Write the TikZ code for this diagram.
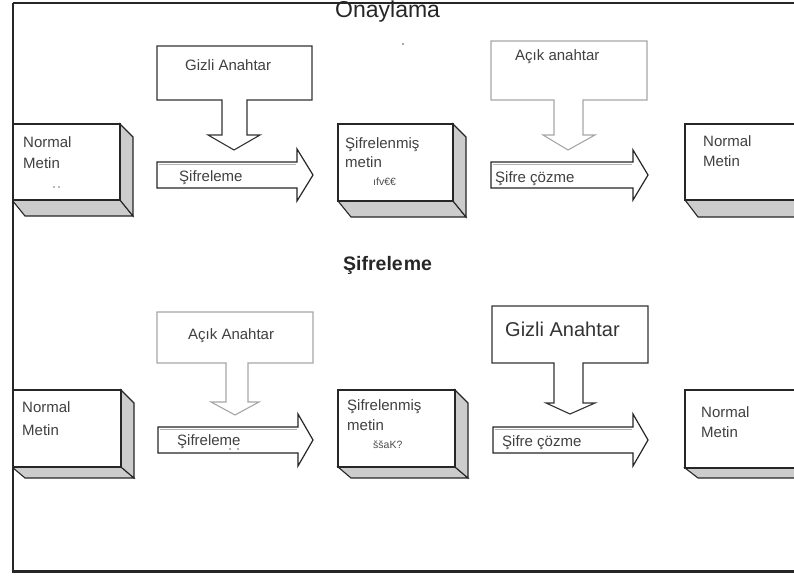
\documentclass[tikz,border=0pt]{standalone}
\usepackage{fontspec}
\setmainfont{Liberation Sans}
\begin{document}
\begin{tikzpicture}[x=1pt,y=-1pt,
  face/.style={fill=white,draw=black!85,line width=1.1pt},
  sideface/.style={fill=black!20,draw=black!85,line width=1.1pt},
  blockarrow/.style={fill=white,draw=black!85,line width=1.2pt},
  keydark/.style={fill=white,draw=black!80,line width=1.1pt},
  keylight/.style={fill=white,draw=black!35,line width=1.1pt},
  lbl/.style={font=\fontsize{15}{17}\selectfont,text=black!75,anchor=base west,inner sep=0pt},
  cipher/.style={font=\fontsize{10.5}{12}\selectfont,text=black!70,anchor=base west,inner sep=0pt},
  heading/.style={font=\fontsize{23}{25}\selectfont,text=black!85,anchor=base west,inner sep=0pt},
]
\useasboundingbox (0,0) rectangle (794,575);

% raised text slab: x0, y0, x1, y1, depth below
\newcommand\slab[5]{%
  \draw[sideface] (#1,#4) -- (#3,#4) -- ({#3+13},{#4+#5}) -- ({#1+13},{#4+#5}) -- cycle;
  \draw[sideface] (#3,#2) -- ({#3+13},{#2+13}) -- ({#3+13},{#4+#5}) -- (#3,#4) -- cycle;
  \draw[face] (#1,#2) rectangle (#3,#4);
}
% right-pointing block arrow: x0, centre y, body end x, tip x, body half height, head half height
\newcommand\rblock[6]{%
  \draw[blockarrow] (#1,{#2-#5}) -- (#3,{#2-#5}) -- (#3,{#2-#6}) -- (#4,#2)
    -- (#3,{#2+#6}) -- (#3,{#2+#5}) -- (#1,{#2+#5}) -- cycle;
  \draw[black!30,line width=1pt] ({#1+1.5},{#2-#5+2.5}) -- ({#3-1},{#2-#5+2.5});
}

\begin{scope}
\clip (12,0) rectangle (794,575);

% ---------------- Onaylama ----------------
\node[heading] (t1) at (335,18) {Onaylama};
\fill[black!70] (403,44) circle (0.9);

\slab{12}{124}{120}{200}{16}
\node[lbl] (a1) at (23,147) {Normal};
\node[lbl] (a2) at (23,168) {Metin};
\fill[black!55] (54,187) circle (0.8) (59,187) circle (0.8);

% key callout: Gizli Anahtar
\draw[keydark] (157,46) -- (312,46) -- (312,100) -- (247,100) -- (247,135) -- (260,135)
  -- (234,150) -- (208,135) -- (222,135) -- (222,100) -- (157,100) -- cycle;
\node[lbl] (k1) at (185,71) {Gizli Anahtar};

\rblock{157}{175}{297}{313}{13}{26}
\node[lbl] (e1) at (179,181) {Şifreleme};

\slab{338}{124}{453}{201}{16}
\node[lbl] (c1) at (345,148) {Şifrelenmiş};
\node[lbl] (c2) at (345,167) {metin};
\node[cipher] (c3) at (373,185) {ıfv€€};

% key callout: Açık anahtar
\draw[keylight] (491,41) -- (647,41) -- (647,100) -- (583,100) -- (583,135) -- (595,135)
  -- (568,150) -- (543,135) -- (554,135) -- (554,100) -- (491,100) -- cycle;
\node[lbl] (k2) at (515,61) {Açık anahtar};

\rblock{491}{175}{633}{648}{13}{25}
\node[lbl] (d1) at (495,182) {Şifre çözme};

\slab{685}{124}{820}{200}{17}
\node[lbl] (p1) at (703,146) {Normal};
\node[lbl] (p2) at (703,166) {Metin};

% ---------------- Şifreleme ----------------
\node[heading,font=\bfseries\fontsize{19.5}{22}\selectfont] (t2) at (343,270) {Şifrele\kern1pt me};

\slab{12}{390}{121}{467}{11}
\node[lbl] (b1) at (22,412) {Normal};
\node[lbl] (b2) at (22,435) {Metin};

% key callout: Açık Anahtar
\draw[keylight] (157,312) -- (313,312) -- (313,363) -- (248,363) -- (248,402) -- (259,402)
  -- (235,415) -- (211,402) -- (226,402) -- (226,363) -- (157,363) -- cycle;
\node[lbl] (k3) at (188,339) {Açık Anahtar};

\rblock{158}{440}{298}{313}{13}{26}
\node[lbl] (e2) at (177,445) {Şifreleme};
\fill[black!60] (230,449) circle (0.8) (238,449) circle (0.8);

\slab{338}{390}{455}{467}{11}
\node[lbl] (m1) at (347,410) {Şifrelenmiş};
\node[lbl] (m2) at (347,430) {metin};
\node[cipher] (m3) at (373,448) {ššaK?};

% key callout: Gizli Anahtar
\draw[keydark] (492,306) -- (648,306) -- (648,363) -- (583,363) -- (583,403) -- (595,403)
  -- (570,414) -- (546,403) -- (554,403) -- (554,363) -- (492,363) -- cycle;
\node[lbl,font=\fontsize{20}{22}\selectfont,text=black!80] (k4) at (505,336) {Gizli Anahtar};

\rblock{493}{440}{633}{648}{13}{26}
\node[lbl] (d2) at (502,446) {Şifre çözme};

\slab{685}{390}{820}{468}{10}
\node[lbl] (q1) at (701,417) {Normal};
\node[lbl] (q2) at (701,437) {Metin};
\end{scope}

% outer frame
\draw[black!85,line width=2.4pt] (12.5,3) -- (794,3);
\draw[black!85,line width=2pt] (12.5,3) -- (12.5,571);
\draw[black!85,line width=3pt] (11.5,571) -- (794,571);
\end{tikzpicture}
\end{document}
